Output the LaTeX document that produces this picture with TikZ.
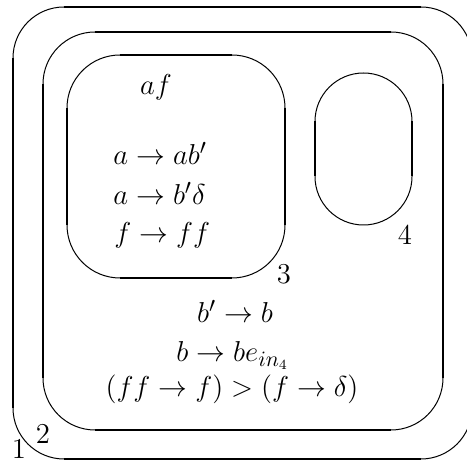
\documentclass[tikz,border=0pt]{standalone}
\usepackage{tikz}
\definecolor{MembraneInk}{HTML}{000000}

\tikzset{
  membrane/.style={draw=MembraneInk, line width=0.5pt},
  wall/.style={draw=MembraneInk, line width=1pt},
  rule/.style={inner sep=0pt, font=\fontsize{15}{18}\selectfont},
  label/.style={inner sep=0pt, font=\fontsize{14.4}{17}\selectfont}
}

\begin{document}
\begin{tikzpicture}[x=0.5pt,y=-0.5pt]
    \useasboundingbox (0,0) rectangle (467,464);

    % membranes: left/top/right/bottom and corner radius (pixels)
    \foreach \xa/\ya/\xb/\yb/\r/\w in {13/7/472/459/51/0.7pt,
                                        43/32/443/430/52/1pt,
                                        67/55/285/278/53/1pt,
                                        315/73/412/225/48.5/1pt} {
      \draw[membrane, rounded corners=\r*0.5pt] (\xa,\ya) rectangle (\xb,\yb);
      \draw[wall, line width=\w] ({\xa+\r},\ya) -- ({\xb-\r},\ya);
      \draw[wall, line width=\w] ({\xa+\r},\yb) -- ({\xb-\r},\yb);
      \draw[wall, line width=\w] (\xa,{\ya+\r}) -- (\xa,{\yb-\r});
      \draw[wall, line width=\w] (\xb,{\ya+\r}) -- (\xb,{\yb-\r});
    }

    % membrane 3 contents
    \node[rule, anchor=base] (objects3) at (156,95) {$af$};
    \node[rule, anchor=base west] (rule3a) at (113,165) {$a \to ab'$};
    \node[rule, anchor=base west] (rule3b) at (113,205) {$a \to b'\delta$};
    \node[rule, anchor=base west] (rule3c) at (114,243) {$f \to ff$};

    % membrane 2 contents
    \node[rule, anchor=base] (rule2a) at (235,323) {$b' \to b$};
    \node[rule, anchor=base west] (rule2b) at (176,362) {$b \to be_{in_4}$};
    \node[rule, anchor=base] (rule2c) at (232,397) {$(ff \to f) > (f \to \delta)$};

    % membrane labels
    \node[label] (lab1) at (19,449) {1};
    \node[label] (lab2) at (43,434) {2};
    \node[label] (lab3) at (284,274) {3};
    \node[label] (lab4) at (405,235) {4};
\end{tikzpicture}
\end{document}
